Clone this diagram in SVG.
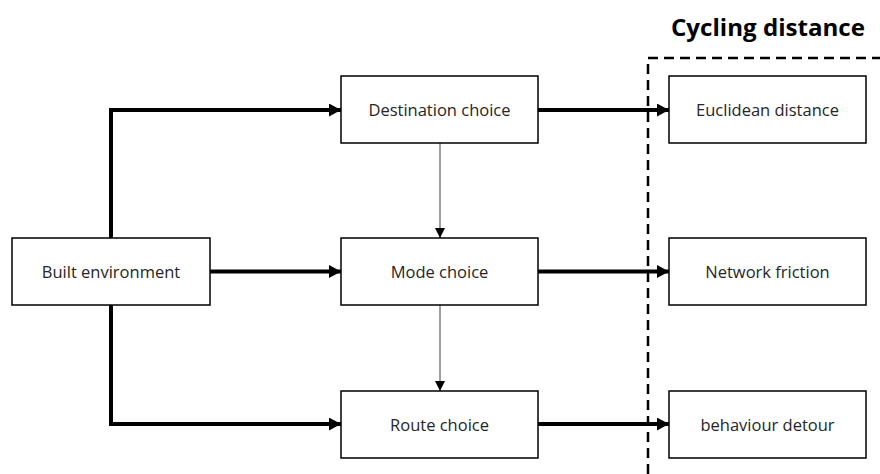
<svg xmlns="http://www.w3.org/2000/svg" width="880" height="474" viewBox="0 0 880 474">
<style>
.box{fill:#fff;stroke:#000;stroke-width:1.5}
.lbl{font-family:"Open Sans","Liberation Sans",sans-serif;font-size:16.5px;fill:#262626;text-anchor:middle;dominant-baseline:central}
.thick{fill:none;stroke:#000;stroke-width:4;marker-end:url(#ah)}
.thin{fill:none;stroke:#404040;stroke-width:1;marker-end:url(#as)}
.dash{fill:none;stroke:#000;stroke-width:2.5;stroke-dasharray:10 6}
</style>
<defs>
<marker id="ah" markerUnits="userSpaceOnUse" markerWidth="13" markerHeight="14" refX="12" refY="6.5" orient="auto"><path d="M0,0 L12,6.5 L0,13 z" fill="#000"/></marker>
<marker id="as" markerUnits="userSpaceOnUse" markerWidth="11" markerHeight="11" refX="10" refY="5" orient="auto"><path d="M0,0 L10,5 L0,10 z" fill="#000"/></marker>
</defs>
<rect width="880" height="474" fill="#fff"/>
<g id="region">
<path class="dash" d="M648,474 V58 H880"/>
<text x="768" y="36" font-family="'Open Sans','Liberation Sans',sans-serif" font-weight="bold" font-size="24" fill="#000" text-anchor="middle" textLength="194" lengthAdjust="spacingAndGlyphs">Cycling distance</text>
</g>
<g id="connectors">
<path class="thick" d="M111,238 V110 H341"/>
<path class="thick" d="M210,271.5 H341"/>
<path class="thick" d="M111,305 V424 H341"/>
<path class="thick" d="M538,110 H669"/>
<path class="thick" d="M538,271.5 H669"/>
<path class="thick" d="M538,424 H669"/>
<path class="thin" d="M440,143 V238"/>
<path class="thin" d="M440,305 V391"/>
</g>
<g id="built"><rect class="box" x="12" y="238" width="198" height="67"/><text class="lbl" x="111" y="271.5">Built environment</text></g>
<g id="dest"><rect class="box" x="341" y="76" width="197" height="67"/><text class="lbl" x="439.5" y="109.5">Destination choice</text></g>
<g id="mode"><rect class="box" x="341" y="238" width="197" height="67"/><text class="lbl" x="439.5" y="271.5">Mode choice</text></g>
<g id="route"><rect class="box" x="341" y="391" width="197" height="67"/><text class="lbl" x="439.5" y="424.5">Route choice</text></g>
<g id="euclid"><rect class="box" x="669" y="76" width="197" height="67"/><text class="lbl" x="767.5" y="109.5">Euclidean distance</text></g>
<g id="network"><rect class="box" x="669" y="238" width="197" height="67"/><text class="lbl" x="767.5" y="271.5">Network friction</text></g>
<g id="detour"><rect class="box" x="669" y="391" width="197" height="67"/><text class="lbl" x="767.5" y="424.5">behaviour detour</text></g>
</svg>
